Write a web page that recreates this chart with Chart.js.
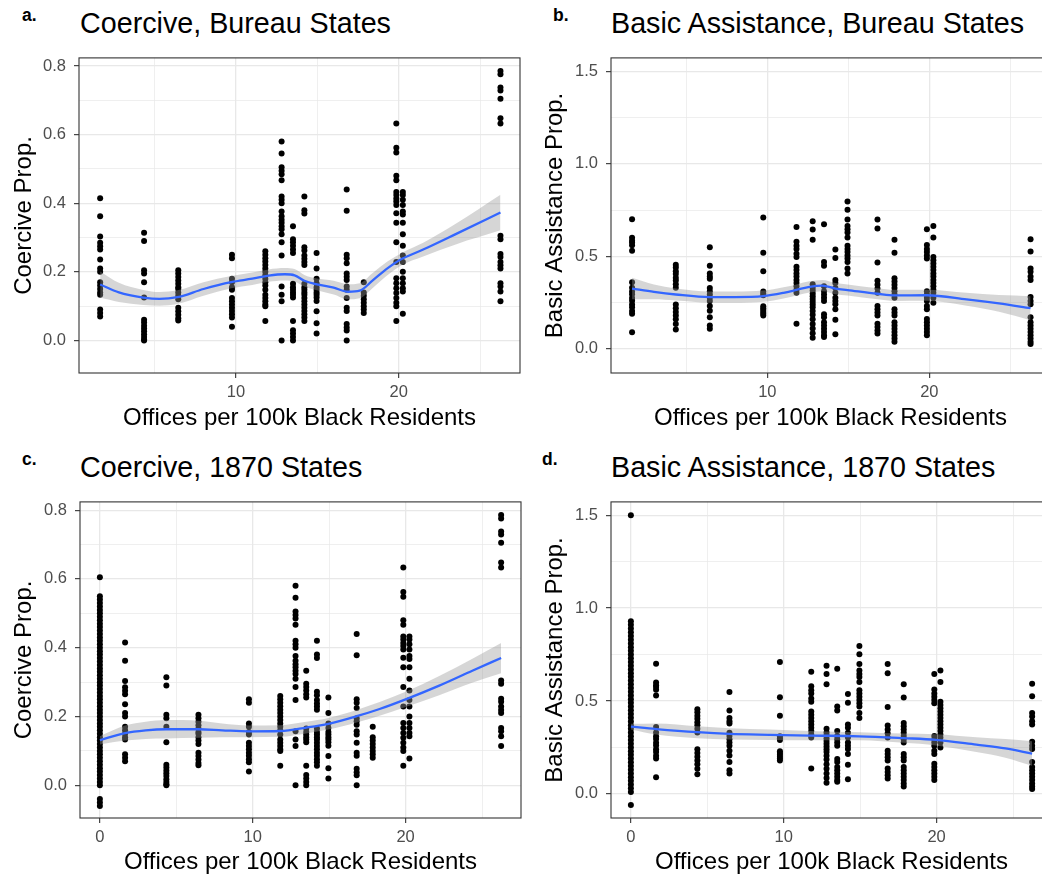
<!DOCTYPE html>
<html>
<head>
<meta charset="utf-8">
<title>Offices per 100k Black Residents</title>
<script src="https://cdn.jsdelivr.net/npm/chart.js@4.4.1/dist/chart.umd.min.js"></script>
<style>
  html, body { margin: 0; padding: 0; background: #fff; }
  body { width: 1042px; height: 879px; overflow: hidden; position: relative;
         font-family: "Liberation Sans", Arial, sans-serif; }
  canvas { position: absolute; }
  .tag { position: absolute; font-weight: bold; font-size: 17.5px; line-height: 1; color: #000; }
  .title { position: absolute; font-size: 28.7px; line-height: 1; color: #000; white-space: nowrap; }
</style>
</head>
<body>
<div class="tag" style="left:22px; top:7px;">a.</div>
<div class="title" style="left:80px; top:9px;">Coercive, Bureau States</div>
<div class="tag" style="left:553px; top:7px;">b.</div>
<div class="title" style="left:611px; top:9px;">Basic Assistance, Bureau States</div>
<div class="tag" style="left:22px; top:451px;">c.</div>
<div class="title" style="left:80px; top:453px;">Coercive, 1870 States</div>
<div class="tag" style="left:542px; top:451px;">d.</div>
<div class="title" style="left:611px; top:453px;">Basic Assistance, 1870 States</div>

<canvas id="chartA" width="531" height="400" style="left:0; top:40px;"></canvas>
<canvas id="chartB" width="531" height="400" style="left:531px; top:40px;"></canvas>
<canvas id="chartC" width="531" height="395" style="left:0; top:484px;"></canvas>
<canvas id="chartD" width="531" height="395" style="left:531px; top:484px;"></canvas>

<script>
// offices per 100k black residents, one value per bureau state
const officeRates = [1.65, 4.35, 6.45, 9.75, 11.8, 12.8, 13.5, 14.2, 14.95, 16.8, 17.85, 19.85, 20.25, 26.25];

// coercive proportion, observations per state (same order as officeRates)
const coerciveByState = [
    [0.415, 0.362, 0.303, 0.285, 0.275, 0.265, 0.236, 0.21, 0.2, 0.17, 0.16, 0.15, 0.14, 0.133, 0.09, 0.08, 0.07],
    [0.314, 0.29, 0.205, 0.195, 0.17, 0.125, 0.06, 0.052, 0.043, 0.035, 0.027, 0.018, 0.01, 0.003, 0.0],
    [0.205, 0.195, 0.185, 0.175, 0.165, 0.155, 0.15, 0.14, 0.13, 0.12, 0.095, 0.085, 0.075, 0.065, 0.058],
    [0.25, 0.24, 0.18, 0.17, 0.155, 0.148, 0.124, 0.114, 0.105, 0.095, 0.086, 0.076, 0.067, 0.04],
    [0.26, 0.25, 0.24, 0.23, 0.22, 0.21, 0.2, 0.19, 0.18, 0.17, 0.16, 0.148, 0.133, 0.124, 0.114, 0.105, 0.1, 0.057],
    [0.58, 0.545, 0.505, 0.495, 0.485, 0.467, 0.42, 0.41, 0.4, 0.376, 0.362, 0.352, 0.343, 0.333, 0.324, 0.31, 0.286, 0.248, 0.157, 0.133, 0.114, 0.0],
    [0.333, 0.295, 0.286, 0.276, 0.265, 0.255, 0.165, 0.155, 0.148, 0.14, 0.133, 0.125, 0.057, 0.03, 0.02, 0.01, 0.0],
    [0.42, 0.38, 0.37, 0.272, 0.262, 0.248, 0.238, 0.229, 0.22, 0.165, 0.155, 0.148, 0.14, 0.133, 0.124, 0.114, 0.105, 0.095, 0.086, 0.076, 0.067, 0.057],
    [0.255, 0.21, 0.18, 0.167, 0.155, 0.148, 0.14, 0.133, 0.125, 0.115, 0.085, 0.05, 0.02],
    [0.44, 0.378, 0.25, 0.24, 0.225, 0.195, 0.186, 0.176, 0.157, 0.148, 0.124, 0.095, 0.086, 0.048, 0.038, 0.029, 0.0],
    [0.17, 0.14, 0.13, 0.12, 0.11, 0.1, 0.09, 0.08],
    [0.633, 0.562, 0.548, 0.48, 0.467, 0.433, 0.424, 0.414, 0.405, 0.395, 0.371, 0.343, 0.286, 0.229, 0.181, 0.167, 0.152, 0.138, 0.124, 0.11, 0.1, 0.057],
    [0.433, 0.424, 0.41, 0.395, 0.376, 0.367, 0.343, 0.31, 0.276, 0.248, 0.229, 0.2, 0.181, 0.167, 0.152, 0.143, 0.078],
    [0.786, 0.776, 0.738, 0.729, 0.705, 0.648, 0.633, 0.305, 0.295, 0.252, 0.243, 0.229, 0.219, 0.21, 0.167, 0.157, 0.143, 0.114]
];

// basic assistance proportion, observations per state
const assistByState = [
    [0.7, 0.6, 0.585, 0.575, 0.56, 0.53, 0.36, 0.33, 0.31, 0.295, 0.275, 0.26, 0.24, 0.225, 0.205, 0.19, 0.09],
    [0.455, 0.44, 0.42, 0.405, 0.385, 0.37, 0.35, 0.33, 0.24, 0.22, 0.2, 0.18, 0.16, 0.135, 0.105],
    [0.549, 0.449, 0.408, 0.391, 0.379, 0.329, 0.312, 0.294, 0.276, 0.259, 0.232, 0.206, 0.171, 0.127, 0.109],
    [0.71, 0.52, 0.42, 0.31, 0.3, 0.29, 0.23, 0.22, 0.21, 0.2, 0.19, 0.18],
    [0.658, 0.579, 0.558, 0.54, 0.514, 0.496, 0.444, 0.426, 0.408, 0.391, 0.373, 0.356, 0.338, 0.32, 0.303, 0.136],
    [0.69, 0.645, 0.59, 0.35, 0.33, 0.315, 0.3, 0.285, 0.27, 0.255, 0.24, 0.225, 0.205, 0.185, 0.16, 0.135, 0.11, 0.085, 0.06],
    [0.673, 0.47, 0.449, 0.338, 0.312, 0.294, 0.276, 0.259, 0.188, 0.171, 0.144, 0.127, 0.109, 0.092, 0.074, 0.065],
    [0.537, 0.491, 0.373, 0.356, 0.329, 0.303, 0.276, 0.259, 0.241, 0.215, 0.157, 0.079],
    [0.796, 0.752, 0.699, 0.664, 0.646, 0.629, 0.602, 0.558, 0.54, 0.523, 0.505, 0.488, 0.47, 0.435, 0.408],
    [0.699, 0.65, 0.467, 0.368, 0.347, 0.326, 0.303, 0.232, 0.215, 0.197, 0.18, 0.136, 0.118, 0.1, 0.083],
    [0.59, 0.519, 0.382, 0.364, 0.347, 0.329, 0.312, 0.294, 0.276, 0.215, 0.197, 0.18, 0.144, 0.127, 0.109, 0.092, 0.074, 0.056, 0.039],
    [0.646, 0.562, 0.54, 0.523, 0.505, 0.488, 0.312, 0.294, 0.276, 0.259, 0.232, 0.215, 0.162, 0.144, 0.127, 0.109, 0.092, 0.074],
    [0.664, 0.602, 0.496, 0.479, 0.461, 0.444, 0.426, 0.408, 0.391, 0.373, 0.356, 0.338, 0.32, 0.303, 0.276, 0.25],
    [0.593, 0.526, 0.435, 0.417, 0.391, 0.373, 0.28, 0.259, 0.241, 0.171, 0.144, 0.127, 0.109, 0.092, 0.074, 0.056, 0.039, 0.026]
];

// 1870 states without an office (x = 0): a dense column
const coerciveNoOffice = [0.605, 0.55, 0.54, 0.53, 0.52, 0.51, 0.50, 0.49, 0.48, 0.47, 0.46, 0.45, 0.44, 0.43, 0.42, 0.41,
    0.40, 0.39, 0.38, 0.37, 0.36, 0.35, 0.34, 0.33, 0.32, 0.31, 0.30, 0.29, 0.28, 0.27, 0.26, 0.25, 0.24, 0.23, 0.22, 0.21,
    0.20, 0.19, 0.18, 0.17, 0.16, 0.15, 0.14, 0.13, 0.12, 0.11, 0.10, 0.09, 0.08, 0.07, 0.06, 0.05, 0.04, 0.03, 0.02, 0.01,
    0.0, -0.04, -0.05, -0.06];
const assistNoOffice = [1.5, 0.93, 0.91, 0.89, 0.87, 0.85, 0.83, 0.81, 0.79, 0.77, 0.75, 0.73, 0.71, 0.69, 0.67, 0.65,
    0.63, 0.61, 0.59, 0.57, 0.55, 0.53, 0.51, 0.49, 0.47, 0.45, 0.43, 0.41, 0.39, 0.37, 0.35, 0.33, 0.31, 0.29, 0.27, 0.25,
    0.23, 0.21, 0.19, 0.17, 0.15, 0.13, 0.11, 0.09, 0.07, 0.05, 0.03, 0.01, -0.06];

// loess fits with their confidence bands
const coerciveBureauFitX = [1.65, 2.8, 4.3, 5.3, 6.4, 8.0, 9.7, 11.0, 12.0, 13.0, 13.6, 14.2, 14.9, 16.0, 16.9, 17.6, 18.4, 19.3, 20.2, 21.5, 23.5, 26.25];
const coerciveBureauFit = [0.163, 0.14, 0.125, 0.121, 0.126, 0.15, 0.17, 0.18, 0.189, 0.193, 0.19, 0.174, 0.164, 0.154, 0.142, 0.145, 0.175, 0.21, 0.238, 0.265, 0.31, 0.373];
const coerciveBureauHigh = [0.201, 0.168, 0.147, 0.141, 0.146, 0.17, 0.188, 0.198, 0.207, 0.211, 0.208, 0.191, 0.181, 0.174, 0.164, 0.167, 0.197, 0.23, 0.256, 0.285, 0.34, 0.425];
const coerciveBureauLow = [0.125, 0.112, 0.103, 0.101, 0.106, 0.13, 0.152, 0.162, 0.171, 0.175, 0.172, 0.157, 0.147, 0.134, 0.12, 0.123, 0.153, 0.19, 0.22, 0.245, 0.28, 0.321];

const assistBureauFitX = [1.65, 3.0, 4.35, 6.45, 8.0, 9.75, 11.0, 11.85, 12.6, 13.4, 14.2, 14.95, 16.8, 17.85, 19.85, 22.3, 24.3, 26.25];
const assistBureauFit = [0.326, 0.308, 0.294, 0.28, 0.28, 0.285, 0.303, 0.32, 0.335, 0.342, 0.326, 0.318, 0.298, 0.289, 0.29, 0.268, 0.246, 0.22];
const assistBureauHigh = [0.384, 0.348, 0.326, 0.31, 0.31, 0.315, 0.333, 0.35, 0.365, 0.372, 0.356, 0.348, 0.328, 0.319, 0.32, 0.303, 0.291, 0.285];
const assistBureauLow = [0.268, 0.268, 0.262, 0.25, 0.25, 0.255, 0.273, 0.29, 0.305, 0.312, 0.296, 0.288, 0.268, 0.259, 0.26, 0.233, 0.201, 0.155];

const coercive1870FitX = [0, 1.65, 3.0, 4.35, 6.45, 8.0, 9.75, 11.8, 13.5, 14.95, 16.8, 18.3, 20.0, 22.2, 24.4, 26.25];
const coercive1870Fit = [0.131, 0.152, 0.16, 0.163, 0.163, 0.16, 0.157, 0.158, 0.168, 0.179, 0.201, 0.222, 0.25, 0.29, 0.334, 0.37];
const coercive1870High = [0.143, 0.174, 0.185, 0.19, 0.188, 0.18, 0.174, 0.175, 0.185, 0.196, 0.219, 0.242, 0.272, 0.318, 0.369, 0.414];
const coercive1870Low = [0.119, 0.13, 0.135, 0.136, 0.138, 0.14, 0.14, 0.141, 0.151, 0.162, 0.183, 0.202, 0.228, 0.262, 0.299, 0.326];

const assist1870FitX = [0, 1.65, 4.35, 6.45, 9.1, 11.7, 14.95, 17.85, 19.95, 22.6, 24.5, 26.25];
const assist1870Fit = [0.362, 0.349, 0.332, 0.323, 0.318, 0.314, 0.31, 0.3, 0.291, 0.265, 0.245, 0.217];
const assist1870High = [0.377, 0.379, 0.364, 0.353, 0.346, 0.339, 0.332, 0.325, 0.321, 0.305, 0.295, 0.283];
const assist1870Low = [0.347, 0.319, 0.3, 0.293, 0.29, 0.289, 0.288, 0.275, 0.261, 0.225, 0.195, 0.151];

// tick values
const bureauXMajor = [10, 20];
const bureauXMinor = [5, 15, 25];
const allXMajor = [0, 10, 20];
const allXMinor = [5, 15, 25];
const coerciveYMajor = [0, 0.2, 0.4, 0.6, 0.8];
const coerciveYMinor = [0.1, 0.3, 0.5, 0.7];
const assistYMajor = [0, 0.5, 1.0, 1.5];
const assistYMinor = [0.25, 0.75, 1.25];

const FONT = '"Liberation Sans", Arial, sans-serif';
const X_TITLE = 'Offices per 100k Black Residents';

// panel border (ggplot theme_bw)
const framePlugin = {
    id: 'frame',
    afterDatasetsDraw(chart) {
        const ctx = chart.ctx;
        const a = chart.chartArea;
        ctx.save();
        ctx.strokeStyle = '#333333';
        ctx.lineWidth = 1.1;
        ctx.strokeRect(a.left, a.top, a.right - a.left, a.bottom - a.top);
        ctx.restore();
    }
};

function toXY(xs, ys){
    return xs.map((x, i) => ({x: x, y: ys[i]}));
}

function axisOptions(major, minor, min, max, label, isY, size, titlePad){
    const ticks = major.concat(minor).sort((a, b) => a - b);
    const isMajor = c => c.tick && major.includes(c.tick.value);
    return {
        type: 'linear',
        min: min,
        max: max,
        afterFit: s => { if (isY) s.width = size; else s.height = size; },
        afterBuildTicks: s => { s.ticks = ticks.map(v => ({value: v})); },
        ticks: {
            autoSkip: false,
            maxRotation: 0,
            padding: isY ? 8 : 5,
            color: '#4d4d4d',
            font: {family: FONT, size: 16.5},
            callback: v => major.includes(v) ? (isY ? v.toFixed(1) : String(v)) : ''
        },
        grid: {
            color: '#e8e8e8',
            lineWidth: c => isMajor(c) ? 1.3 : 0.7,
            tickLength: 5,
            tickWidth: 1.1,
            tickColor: c => isMajor(c) ? '#333333' : 'rgba(0,0,0,0)'
        },
        border: {display: false},
        title: {
            display: true,
            text: label,
            color: '#000',
            font: {family: FONT, size: 24},
            padding: isY ? {top: titlePad, bottom: 0} : {top: 0, bottom: titlePad}
        }
    };
}

function buildPanel(cfg){
    const points = [];
    officeRates.forEach((rate, i) => {
        cfg.byState[i].forEach(v => points.push({x: rate, y: v}));
    });
    if (cfg.noOffice) {
        cfg.noOffice.forEach(v => points.push({x: 0, y: v}));
    }

    const datasets = [
        {   // fitted line
            type: 'line', data: toXY(cfg.fitX, cfg.fit), order: 0,
            borderColor: '#3366ff', borderWidth: 2.3, pointRadius: 0,
            cubicInterpolationMode: 'monotone', fill: false
        },
        {   // band top
            type: 'line', data: toXY(cfg.fitX, cfg.high), order: 1,
            borderWidth: 0, borderColor: 'rgba(0,0,0,0)', pointRadius: 0,
            cubicInterpolationMode: 'monotone', fill: false
        },
        {   // band bottom, filled up to the top line
            type: 'line', data: toXY(cfg.fitX, cfg.low), order: 2,
            borderWidth: 0, borderColor: 'rgba(0,0,0,0)', pointRadius: 0,
            cubicInterpolationMode: 'monotone', fill: '-1',
            backgroundColor: 'rgba(153,153,153,0.4)'
        },
        {
            type: 'scatter', data: points, order: 3,
            backgroundColor: '#000', borderWidth: 0, pointRadius: 3
        }
    ];

    return new Chart(document.getElementById(cfg.id), {
        type: 'scatter',
        data: {datasets: datasets},
        plugins: [framePlugin],
        options: {
            responsive: false,
            animation: false,
            events: [],
            layout: {padding: {top: 12, right: cfg.padRight, left: 0, bottom: 0}},
            plugins: {legend: {display: false}, tooltip: {enabled: false}},
            scales: {
                x: axisOptions(cfg.xMajor, cfg.xMinor, cfg.xMin, cfg.xMax, X_TITLE, false, cfg.xAxisHeight, cfg.xTitlePad),
                y: axisOptions(cfg.yMajor, cfg.yMinor, cfg.yMin, cfg.yMax, cfg.yTitle, true, cfg.yAxisWidth, 10)
            }
        }
    });
}

// a. Coercive, Bureau States
buildPanel({
    id: 'chartA', byState: coerciveByState,
    fitX: coerciveBureauFitX, fit: coerciveBureauFit, high: coerciveBureauHigh, low: coerciveBureauLow,
    xMajor: bureauXMajor, xMinor: bureauXMinor, xMin: 0.35, xMax: 27.45,
    yMajor: coerciveYMajor, yMinor: coerciveYMinor, yMin: -0.095, yMax: 0.824,
    yTitle: 'Coercive Prop.', yAxisWidth: 79, xAxisHeight: 67, xTitlePad: 7.5, padRight: 11
});

// b. Basic Assistance, Bureau States
buildPanel({
    id: 'chartB', byState: assistByState,
    fitX: assistBureauFitX, fit: assistBureauFit, high: assistBureauHigh, low: assistBureauLow,
    xMajor: bureauXMajor, xMinor: bureauXMinor, xMin: 0.35, xMax: 27.45,
    yMajor: assistYMajor, yMinor: assistYMinor, yMin: -0.13, yMax: 1.572,
    yTitle: 'Basic Assistance Prop.', yAxisWidth: 80, xAxisHeight: 67, xTitlePad: 7.5, padRight: 12
});

// c. Coercive, 1870 States
buildPanel({
    id: 'chartC', byState: coerciveByState, noOffice: coerciveNoOffice,
    fitX: coercive1870FitX, fit: coercive1870Fit, high: coercive1870High, low: coercive1870Low,
    xMajor: allXMajor, xMinor: allXMinor, xMin: -1.3, xMax: 27.55,
    yMajor: coerciveYMajor, yMinor: coerciveYMinor, yMin: -0.095, yMax: 0.824,
    yTitle: 'Coercive Prop.', yAxisWidth: 80, xAxisHeight: 61, xTitlePad: 2.5, padRight: 10
});

// d. Basic Assistance, 1870 States
buildPanel({
    id: 'chartD', byState: assistByState, noOffice: assistNoOffice,
    fitX: assist1870FitX, fit: assist1870Fit, high: assist1870High, low: assist1870Low,
    xMajor: allXMajor, xMinor: allXMinor, xMin: -1.3, xMax: 27.55,
    yMajor: assistYMajor, yMinor: assistYMinor, yMin: -0.13, yMax: 1.572,
    yTitle: 'Basic Assistance Prop.', yAxisWidth: 80, xAxisHeight: 61, xTitlePad: 2.5, padRight: 10
});
</script>
</body>
</html>
